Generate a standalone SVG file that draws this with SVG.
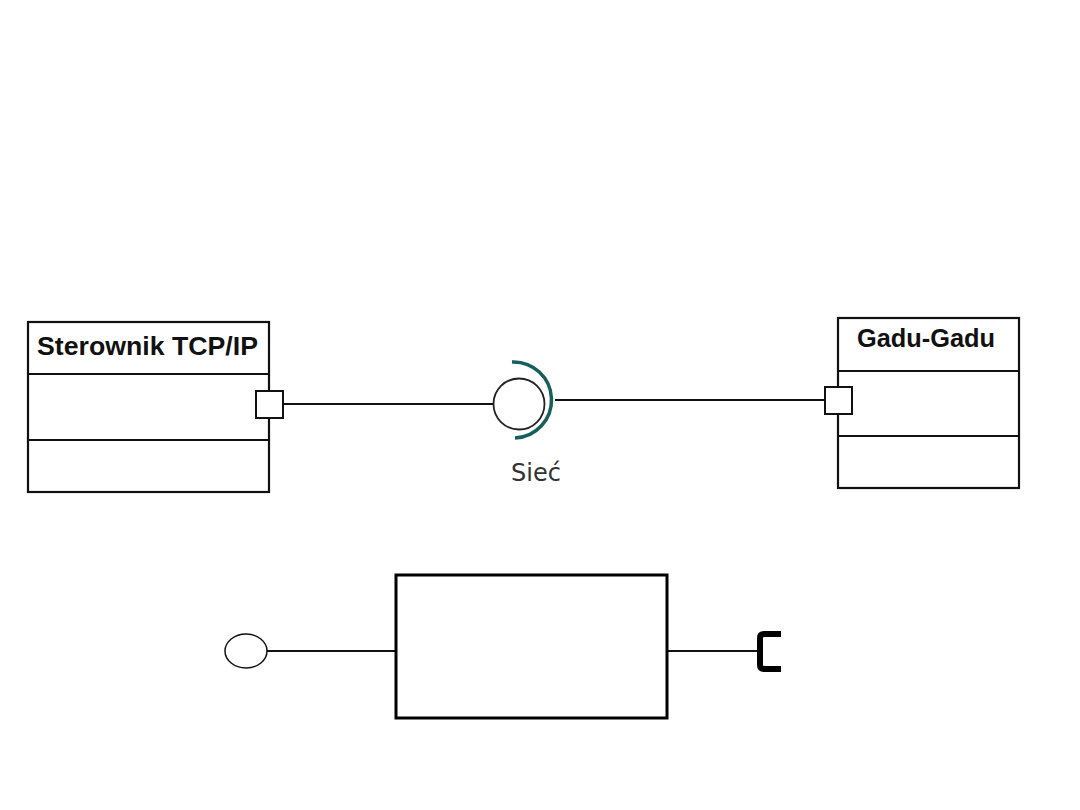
<svg xmlns="http://www.w3.org/2000/svg" width="1080" height="810" viewBox="0 0 1080 810">
<style>
.box{fill:#fff;stroke:#111;stroke-width:2.2}
.div{stroke:#111;stroke-width:2.2}
.port{fill:#fff;stroke:#111;stroke-width:2}
.wire{stroke:#111;stroke-width:1.8;fill:none}
.title{font-family:"Liberation Sans",Arial,sans-serif;font-weight:bold;font-size:25px;fill:#111}
.lbl{font-family:"DejaVu Sans","Liberation Sans",sans-serif;font-size:24px;fill:#333}
</style>
<rect width="1080" height="810" fill="#fff"/>
<g id="connectors">
<line class="wire" x1="283" y1="404" x2="494" y2="404"/>
<line class="wire" x1="555" y1="400" x2="825" y2="400"/>
<line class="wire" x1="267" y1="651" x2="395" y2="651"/>
<line class="wire" x1="667" y1="651" x2="759" y2="651"/>
</g>
<g id="sterownik">
<rect class="box" x="28" y="322" width="241" height="170"/>
<line class="div" x1="28" y1="374" x2="269" y2="374"/>
<line class="div" x1="28" y1="440" x2="269" y2="440"/>
<text class="title" x="37" y="355" font-size="27" textLength="221" lengthAdjust="spacingAndGlyphs">Sterownik TCP/IP</text>
<rect class="port" x="256" y="391" width="27" height="27"/>
</g>
<g id="gadu">
<rect class="box" x="838" y="318" width="181" height="170"/>
<line class="div" x1="838" y1="371" x2="1019" y2="371"/>
<line class="div" x1="838" y1="436" x2="1019" y2="436"/>
<text class="title" x="857" y="347" textLength="138" lengthAdjust="spacingAndGlyphs">Gadu-Gadu</text>
<rect class="port" x="825" y="387" width="27" height="27"/>
</g>
<g id="siec">
<circle cx="519" cy="404" r="25.5" fill="#fff" stroke="#222" stroke-width="1.8"/>
<path d="M512 362 A37 37 0 0 1 515 438" fill="none" stroke="#175f5a" stroke-width="3.5"/>
<text class="lbl" x="536" y="481" text-anchor="middle">Sieć</text>
</g>
<g id="provided">
<ellipse cx="246" cy="651" rx="21" ry="17" fill="#fff" stroke="#111" stroke-width="1.5"/>
</g>
<g id="component">
<rect x="396" y="575" width="271" height="143" fill="#fff" stroke="#000" stroke-width="3"/>
</g>
<g id="required">
<path d="M781 634 H764 Q760 634 760 638 V665 Q760 669 764 669 H781" fill="none" stroke="#000" stroke-width="6"/>
</g>
</svg>
